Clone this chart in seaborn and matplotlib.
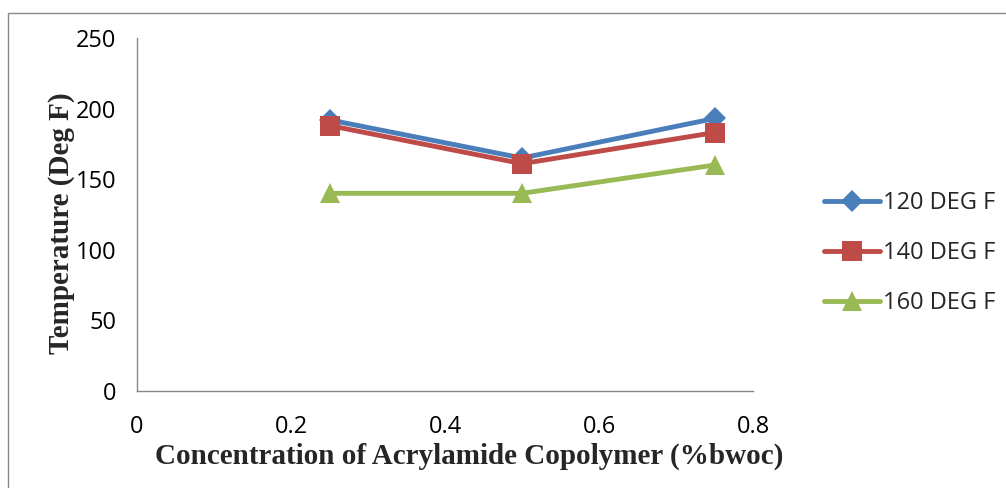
import matplotlib
matplotlib.use("Agg")
import matplotlib.pyplot as plt
import seaborn as sns
import pandas as pd
from matplotlib.patches import Rectangle

concentration = [0.25, 0.5, 0.75]
series_names = ["120 DEG F", "140 DEG F", "160 DEG F"]
temp_120 = [192, 165, 193]
temp_140 = [188, 161, 183]
temp_160 = [140, 140, 160]
x_ticks = [0, 0.2, 0.4, 0.6, 0.8]
x_tick_labels = ["0", "0.2", "0.4", "0.6", "0.8"]
y_ticks = [0, 50, 100, 150, 200, 250]

df = pd.DataFrame({
    "conc": concentration * 3,
    "temp": temp_120 + temp_140 + temp_160,
    "series": [series_names[0]] * 3 + [series_names[1]] * 3 + [series_names[2]] * 3,
})

sns.set_style("white")
plt.rcParams["font.family"] = ["Open Sans", "DejaVu Sans"]

fig = plt.figure(figsize=(10.06, 4.88), dpi=100)
ax = fig.add_axes([137/1006, 1 - 391/488, (753-137)/1006, (391-38)/488])

colors = ["#4a7ebb", "#be4b48", "#98b954"]
markers = ["D", "s", "^"]
sizes = [11, 14, 15]
for name, c, m, s in zip(series_names, colors, markers, sizes):
    sub = df[df["series"] == name]
    sns.lineplot(data=sub, x="conc", y="temp", ax=ax, color=c, marker=m,
                 markersize=s, linewidth=3.5, label=name, markeredgewidth=0,
                 estimator=None)

ax.set_xlim(0, 0.8)
ax.set_ylim(0, 250)
ax.set_xticks(x_ticks)
ax.set_xticklabels(x_tick_labels)
ax.set_yticks(y_ticks)
for s in ["top", "right"]:
    ax.spines[s].set_visible(False)
for s in ["left", "bottom"]:
    ax.spines[s].set_color("#888888")
    ax.spines[s].set_linewidth(1)
ax.tick_params(axis="both", direction="out", length=5, width=1, color="#888888",
               labelsize=17, labelcolor="black")
ax.tick_params(axis="y", pad=10)
ax.tick_params(axis="x", pad=12)

ax.set_xlabel("Concentration of Acrylamide Copolymer (%bwoc)", family="Liberation Serif",
              fontweight="bold", fontsize=21)
ax.set_ylabel("Temperature (Deg F)", family="Liberation Serif", fontweight="bold", fontsize=21)
ax.xaxis.set_label_coords(0.539, -0.145)
ax.yaxis.set_label_coords(-0.1, 0.476)

leg = ax.legend(loc="center left", bbox_to_anchor=(1.08, 0.39), frameon=False,
                fontsize=17, handlelength=2.4, labelspacing=1.1, handletextpad=0.1)

fig.patches.append(Rectangle((8/1006, -0.1), 1.1, 1 - 13/488 + 0.1, transform=fig.transFigure,
                             fill=False, edgecolor="#888888", linewidth=1))

fig.savefig("out.png", dpi=100)
